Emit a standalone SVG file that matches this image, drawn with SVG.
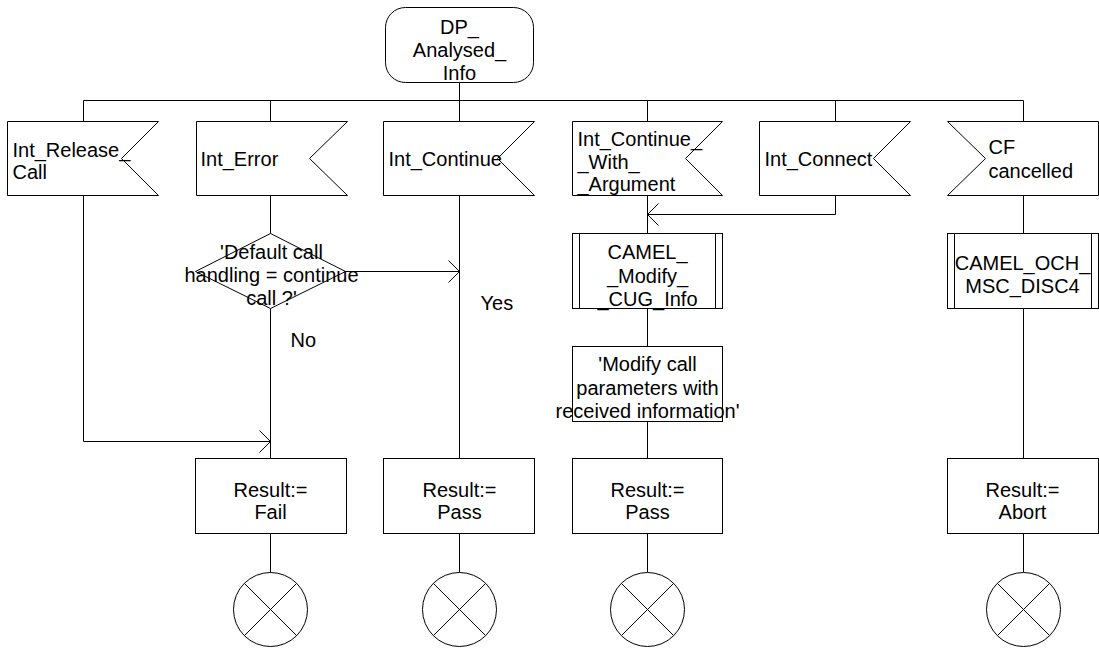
<svg xmlns="http://www.w3.org/2000/svg" width="1099" height="653" viewBox="0 0 1099 653">
<style>
.s{fill:#fff;stroke:#000;stroke-width:1}
.l{fill:none;stroke:#000;stroke-width:1}
text{font-family:"Liberation Sans",Arial,sans-serif;font-size:20px;fill:#000}
.c{text-anchor:middle}
</style>
<defs>
<marker id="a" markerUnits="userSpaceOnUse" markerWidth="14" markerHeight="26" viewBox="0 0 14 26" refX="12" refY="13" orient="auto">
<path d="M1,2 L12,13 L1,24" fill="none" stroke="#000" stroke-width="1"/>
</marker>
<g id="term"><circle r="37" class="s"/><path d="M-26,-26 L26,26 M26,-26 L-26,26" class="l"/></g>
</defs>
<rect width="1099" height="653" fill="#fff"/>
<g transform="translate(0.5,0.5)">
<g id="connectors" class="l">
<path d="M459,82 V100 M83,100 H1023 M83,100 V121 M270,100 V121 M459,100 V121 M647,100 V121 M835,100 V121 M1023,100 V121"/>
<path d="M83,195 V441 H270" marker-end="url(#a)"/>
<path d="M270,195 V233 M270,308 V458"/>
<path d="M345,271 H459" marker-end="url(#a)"/>
<path d="M459,195 V458"/>
<path d="M647,195 V233 M647,308 V346 M647,421 V458"/>
<path d="M835,195 V214 H647" marker-end="url(#a)"/>
<path d="M1023,195 V233 M1023,308 V458"/>
<path d="M270,533 V572 M459,533 V572 M647,533 V572 M1023,533 V572"/>
</g>
<g id="start">
<rect x="385" y="7" width="148" height="75" rx="20" ry="20" class="s"/>
<text class="c"><tspan x="459" y="33">DP_</tspan><tspan x="459" y="56">Analysed_</tspan><tspan x="459" y="79">Info</tspan></text>
</g>
<g id="sig_release">
<polygon points="7,121 158,121 121,158 158,195 7,195" class="s"/>
<text><tspan x="12" y="156">Int_Release_</tspan><tspan x="12" y="178">Call</tspan></text>
</g>
<g id="sig_error">
<polygon points="196,121 347,121 309,158 347,195 196,195" class="s"/>
<text x="200" y="165">Int_Error</text>
</g>
<g id="sig_continue">
<polygon points="383,121 534,121 497,158 534,195 383,195" class="s"/>
<text x="388" y="165">Int_Continue</text>
</g>
<g id="sig_continue_arg">
<polygon points="572,121 722,121 685,158 722,195 572,195" class="s"/>
<text><tspan x="577" y="145">Int_Continue_</tspan><tspan x="577" y="168">_With_</tspan><tspan x="577" y="190">_Argument</tspan></text>
</g>
<g id="sig_connect">
<polygon points="759,121 910,121 873,158 910,195 759,195" class="s"/>
<text x="764" y="165">Int_Connect</text>
</g>
<g id="sig_cf">
<polygon points="947,121 1098,121 1098,195 947,195 985,158" class="s"/>
<text><tspan x="988" y="153">CF</tspan><tspan x="988" y="177">cancelled</tspan></text>
</g>
<g id="decision">
<polygon points="270,233 345,271 270,308 195,271" class="s"/>
<text class="c"><tspan x="271" y="258">'Default call</tspan><tspan x="271" y="281">handling = continue</tspan><tspan x="271" y="304">call ?'</tspan></text>
</g>
<g id="lbl_yes"><text x="480" y="309">Yes</text></g>
<g id="lbl_no"><text x="290" y="346">No</text></g>
<g id="camel_modify">
<rect x="572" y="233" width="150" height="75" class="s"/>
<path d="M579,233 V308 M715,233 V308" class="l"/>
<text class="c"><tspan x="647" y="258">CAMEL_</tspan><tspan x="647" y="282">_Modify_</tspan><tspan x="647" y="305">_CUG_Info</tspan></text>
</g>
<g id="modify_task">
<rect x="572" y="346" width="150" height="75" class="s"/>
<text class="c"><tspan x="647" y="370">'Modify call</tspan><tspan x="647" y="394">parameters with</tspan><tspan x="647" y="417">received information'</tspan></text>
</g>
<g id="camel_och">
<rect x="947" y="233" width="151" height="75" class="s"/>
<path d="M954,233 V308 M1091,233 V308" class="l"/>
<text class="c"><tspan x="1022" y="269">CAMEL_OCH_</tspan><tspan x="1022" y="292">MSC_DISC4</tspan></text>
</g>
<g id="res_fail">
<rect x="195" y="458" width="151" height="75" class="s"/>
<text class="c"><tspan x="270" y="496">Result:=</tspan><tspan x="270" y="518">Fail</tspan></text>
</g>
<g id="res_pass1">
<rect x="383" y="458" width="151" height="75" class="s"/>
<text class="c"><tspan x="459" y="496">Result:=</tspan><tspan x="459" y="518">Pass</tspan></text>
</g>
<g id="res_pass2">
<rect x="572" y="458" width="150" height="75" class="s"/>
<text class="c"><tspan x="647" y="496">Result:=</tspan><tspan x="647" y="518">Pass</tspan></text>
</g>
<g id="res_abort">
<rect x="947" y="458" width="151" height="75" class="s"/>
<text class="c"><tspan x="1022" y="496">Result:=</tspan><tspan x="1022" y="518">Abort</tspan></text>
</g>
<g id="stop1"><use href="#term" x="270" y="609"/></g>
<g id="stop2"><use href="#term" x="459" y="609"/></g>
<g id="stop3"><use href="#term" x="647" y="609"/></g>
<g id="stop4"><use href="#term" x="1023" y="609"/></g>
</g>
</svg>
